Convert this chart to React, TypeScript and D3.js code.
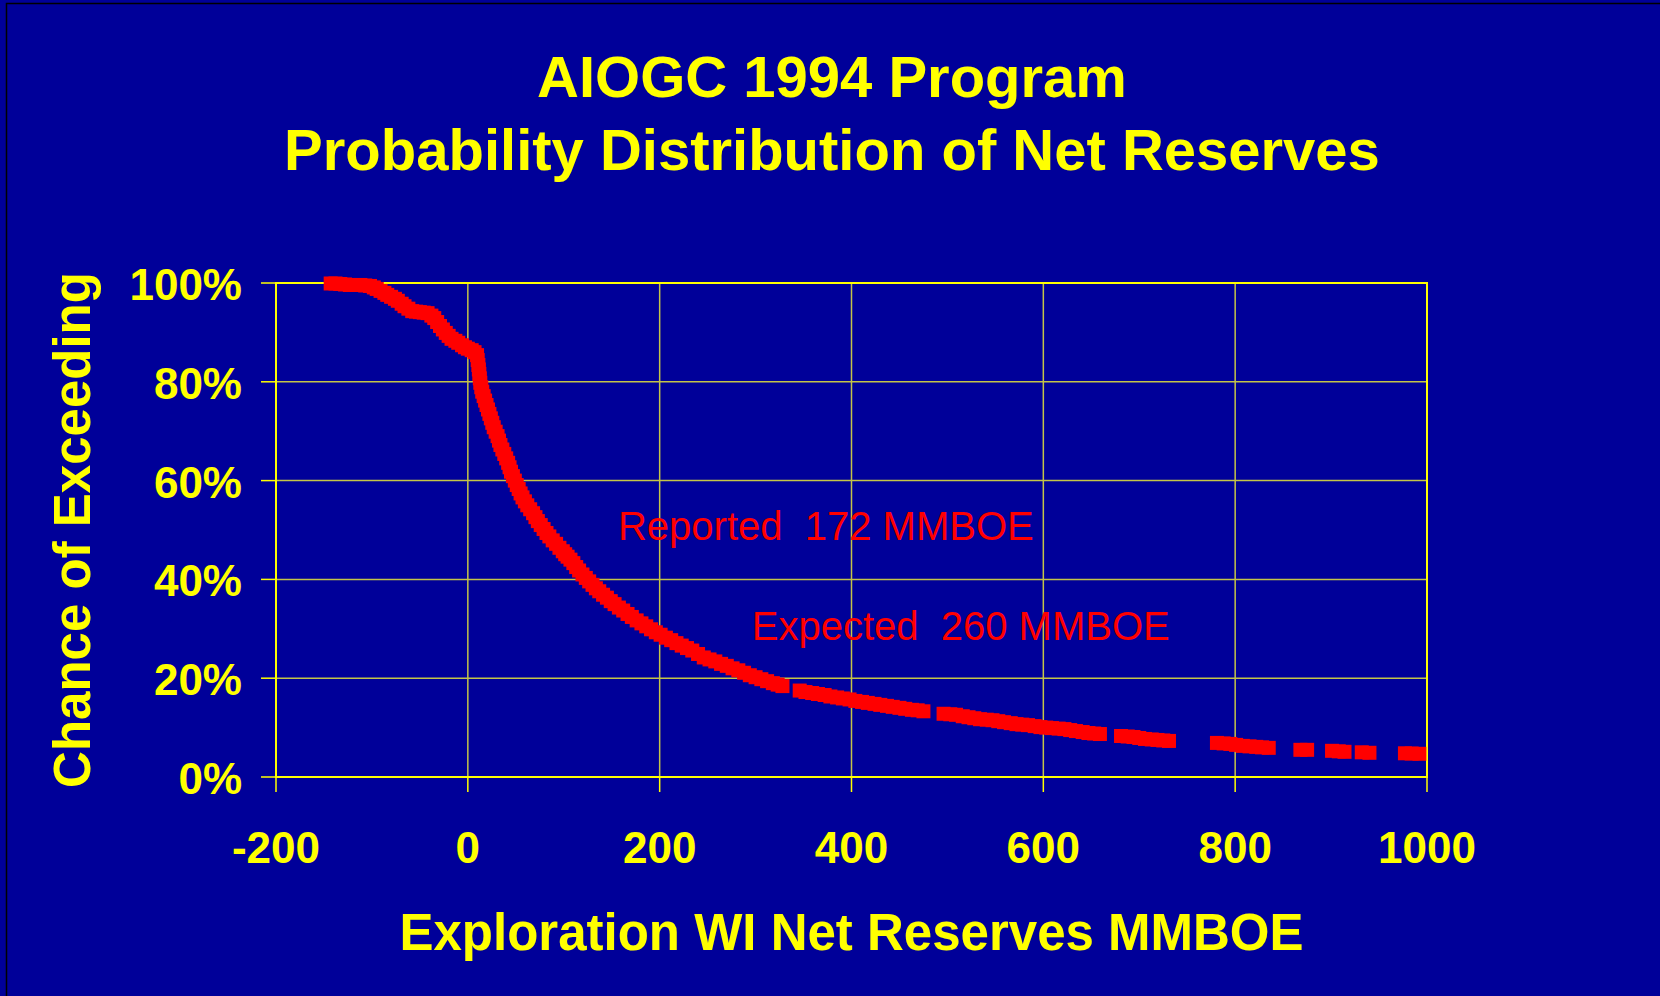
import * as d3 from 'd3';
import { useRef, useEffect } from 'react';

// chart text
const titleLines = ['AIOGC 1994 Program', 'Probability Distribution of Net Reserves'];
const xTitle = 'Exploration WI Net Reserves MMBOE';
const yTitle = 'Chance of Exceeding';

// axes
const xTicks = [-200, 0, 200, 400, 600, 800, 1000];
const yTicks = [0, 20, 40, 60, 80, 100];

// [net reserves MMBOE, chance of exceeding %]
const exceedanceCurve: [number, number][] = [
	[-143, 99.9], [-138, 99.9], [-133, 99.8], [-128, 99.7], [-123, 99.6],
	[-117, 99.6], [-112, 99.6], [-107, 99.5], [-102, 99.4], [-98, 99.1],
	[-95, 98.8], [-91, 98.4], [-87, 98.0], [-84, 97.6], [-80, 97.2],
	[-76, 96.8], [-73, 96.4], [-69, 95.8], [-66, 95.3], [-62, 94.8],
	[-58, 94.3], [-54, 94.2], [-50, 94.1], [-46, 94.0], [-42, 93.9],
	[-38, 93.4], [-35, 92.9], [-32, 92.1], [-29, 91.3], [-26, 90.6],
	[-23, 89.9], [-20, 89.3], [-17, 88.7], [-13, 88.3], [-10, 87.9],
	[-6, 87.4], [-3, 87.0], [0, 86.7], [4, 86.4], [7, 86.0],
	[9.6, 85.4], [10.3, 84.4], [11, 83.4], [11.5, 82.5], [12, 81.6],
	[12.5, 80.7], [13, 79.8], [14, 78.9], [15, 78.0], [16.5, 77.1],
	[18, 76.2], [19.5, 75.3], [21, 74.4], [22.5, 73.5], [24, 72.6],
	[25.5, 71.7], [27, 70.8], [29, 69.9], [31, 69.0], [32.5, 68.1],
	[34, 67.2], [36, 66.3], [38, 65.4], [40, 64.5], [42, 63.6],
	[43.5, 62.7], [45, 61.8], [47, 60.9], [49, 60.0], [51, 59.1],
	[53, 58.3], [55, 57.4], [57, 56.6], [59.5, 55.8], [62, 55.0],
	[65, 54.2], [68, 53.4], [70.5, 52.6], [73, 51.8], [76, 51.0],
	[79, 50.2], [82, 49.4], [85, 48.7], [88.5, 47.9], [92, 47.2],
	[95.5, 46.4], [99, 45.7], [101.5, 45.1], [104, 44.6], [107, 44.0],
	[110, 43.3], [113, 42.5], [116, 41.8], [119.5, 41.0], [123, 40.3],
	[126.5, 39.6], [130, 38.9], [133.5, 38.2], [137, 37.6], [141, 36.9],
	[145, 36.3], [149, 35.6], [153, 35.0], [157.5, 34.3], [162, 33.7],
	[166.5, 33.0], [171, 32.4], [176, 31.7], [181, 31.1], [186, 30.5],
	[191, 29.9], [196, 29.3], [201, 28.8], [206.5, 28.2], [212, 27.7],
	[217.5, 27.1], [223, 26.6], [228.5, 26.1], [234, 25.6], [240, 24.9],
	[246, 24.2], [252, 23.8], [258, 23.4], [264, 22.9], [270, 22.5],
	[276, 22.0], [282, 21.6], [288, 21.1], [294, 20.6], [300, 20.2],
	[306, 19.8], [312, 19.4], [318, 19.0], [323, 18.7], [328, 18.4],
	[346, 17.5], [352, 17.2], [359, 17.0], [365, 16.8], [372, 16.6],
	[378, 16.3], [385, 16.1], [391, 15.9], [398, 15.7], [404, 15.4],
	[411, 15.2], [417, 15.0], [424, 14.8], [430, 14.6], [437, 14.4],
	[443, 14.2], [450, 14.0], [456, 13.8], [463, 13.6], [469, 13.5],
	[475, 13.3],
	[496, 12.8], [503, 12.7], [509, 12.6], [516, 12.3], [522, 12.1],
	[528, 11.9], [534, 11.7], [541, 11.6], [547, 11.5], [553, 11.3],
	[559, 11.1], [566, 10.9], [572, 10.7], [578, 10.6], [584, 10.5],
	[591, 10.3], [597, 10.1], [603, 10.0], [609, 9.9], [616, 9.8],
	[622, 9.7], [628, 9.5], [634, 9.3], [641, 9.1], [647, 8.9],
	[653, 8.8], [659, 8.7],
	[681, 8.3], [688, 8.2], [694, 8.1], [700, 7.9], [706, 7.7],
	[713, 7.6], [719, 7.5], [725, 7.4], [731, 7.3],
	[781, 6.9], [788, 6.8], [795, 6.7], [801, 6.5], [808, 6.3],
	[815, 6.2], [822, 6.1], [828, 6.0], [835, 5.9],
	[868, 5.5], [875, 5.5],
	[901, 5.3], [908, 5.2], [914, 5.1],
	[932, 5.0], [940, 4.9],
	[977, 4.8], [984, 4.75], [992, 4.7],
];

// labels placed in data units
const annotations = [
	{ text: 'Reported  172 MMBOE', x: 156.5, y: 48 },
	{ text: 'Expected  260 MMBOE', x: 296, y: 27.7 },
];

const ProbabilityChart = () => {
	const W = 1660;
	const H = 996;
	const margin = { top: 283, right: 233, bottom: 219, left: 276 };
	const ref: any = useRef();
	const font = '"Liberation Sans", Arial, sans-serif';
	const yellow = '#ffff00';

	const x = d3.scaleLinear().domain([-200, 1000]).range([margin.left, W - margin.right]);
	const y = d3.scaleLinear().domain([0, 100]).range([H - margin.bottom, margin.top]);

	useEffect(() => {
		const svg = d3.select(ref.current);
		svg.selectAll('*').remove();

		svg.append('rect').attr('width', W).attr('height', H).attr('fill', '#000099');
		// slide frame, runs off the page
		svg.append('rect')
			.attr('x', 6.5).attr('y', 3.5).attr('width', 3000).attr('height', 3000)
			.attr('fill', 'none').attr('stroke', '#000').attr('stroke-width', 1.5);

		// title
		svg.append('g').selectAll('text')
			.data(titleLines)
			.enter().append('text')
			.attr('x', 832)
			.attr('y', (d, i) => 97 + i * 73)
			.attr('text-anchor', 'middle')
			.attr('font-family', font).attr('font-weight', 'bold').attr('font-size', 58)
			.attr('fill', yellow)
			.text(d => d);

		// grid
		const grid = svg.append('g');
		grid.selectAll('.gx')
			.data(xTicks.slice(1, -1))
			.enter().append('line')
			.attr('x1', d => x(d)).attr('x2', d => x(d))
			.attr('y1', y(0)).attr('y2', y(100))
			.attr('stroke', '#c4c448').attr('stroke-width', 1.5);
		grid.selectAll('.gy')
			.data(yTicks.slice(1, -1))
			.enter().append('line')
			.attr('x1', x(-200)).attr('x2', x(1000))
			.attr('y1', d => y(d)).attr('y2', d => y(d))
			.attr('stroke', '#c4c448').attr('stroke-width', 1.5);

		// tick marks
		svg.append('g').selectAll('line')
			.data(yTicks)
			.enter().append('line')
			.attr('x1', x(-200) - 15).attr('x2', x(-200))
			.attr('y1', d => y(d)).attr('y2', d => y(d))
			.attr('stroke', yellow).attr('stroke-width', 1.5);
		svg.append('g').selectAll('line')
			.data(xTicks)
			.enter().append('line')
			.attr('x1', d => x(d)).attr('x2', d => x(d))
			.attr('y1', y(0)).attr('y2', y(0) + 15)
			.attr('stroke', yellow).attr('stroke-width', 1.5);

		// plot frame
		svg.append('rect')
			.attr('x', x(-200)).attr('y', y(100))
			.attr('width', x(1000) - x(-200)).attr('height', y(0) - y(100))
			.attr('fill', 'none').attr('stroke', yellow).attr('stroke-width', 2);

		// tick labels
		svg.append('g').selectAll('text')
			.data(yTicks)
			.enter().append('text')
			.attr('x', 242)
			.attr('y', d => y(d) + 17)
			.attr('text-anchor', 'end')
			.attr('font-family', font).attr('font-weight', 'bold').attr('font-size', 44)
			.attr('fill', yellow)
			.text(d => d + '%');
		svg.append('g').selectAll('text')
			.data(xTicks)
			.enter().append('text')
			.attr('x', d => x(d))
			.attr('y', 863)
			.attr('text-anchor', 'middle')
			.attr('font-family', font).attr('font-weight', 'bold').attr('font-size', 44)
			.attr('fill', yellow)
			.text(d => d);

		// axis titles
		svg.append('text')
			.attr('x', (x(-200) + x(1000)) / 2).attr('y', 950)
			.attr('text-anchor', 'middle')
			.attr('font-family', font).attr('font-weight', 'bold').attr('font-size', 51)
			.attr('fill', yellow)
			.text(xTitle);
		svg.append('text')
			.attr('transform', 'translate(90,' + (y(0) + y(100)) / 2 + ') rotate(-90)')
			.attr('text-anchor', 'middle')
			.attr('font-family', font).attr('font-weight', 'bold').attr('font-size', 51)
			.attr('fill', yellow)
			.text(yTitle);

		// curve markers
		svg.append('g').selectAll('rect')
			.data(exceedanceCurve)
			.enter().append('rect')
			.attr('x', d => x(d[0]) - 7)
			.attr('y', d => y(d[1]) - 7)
			.attr('width', 14)
			.attr('height', 14)
			.attr('fill', '#ff0000');

		// annotations
		svg.append('g').selectAll('text')
			.data(annotations)
			.enter().append('text')
			.attr('x', d => x(d.x))
			.attr('y', d => y(d.y))
			.attr('font-family', font).attr('font-size', 40)
			.attr('fill', '#ff0000')
			.style('white-space', 'pre')
			.text(d => d.text);
	}, []);

	return (
		<svg ref={ref} width={W} height={H}
			style={{ position: 'absolute', left: 0, top: 0, display: 'block' }}>
		</svg>
	);
};

export default function App() {
	return <ProbabilityChart />;
}
